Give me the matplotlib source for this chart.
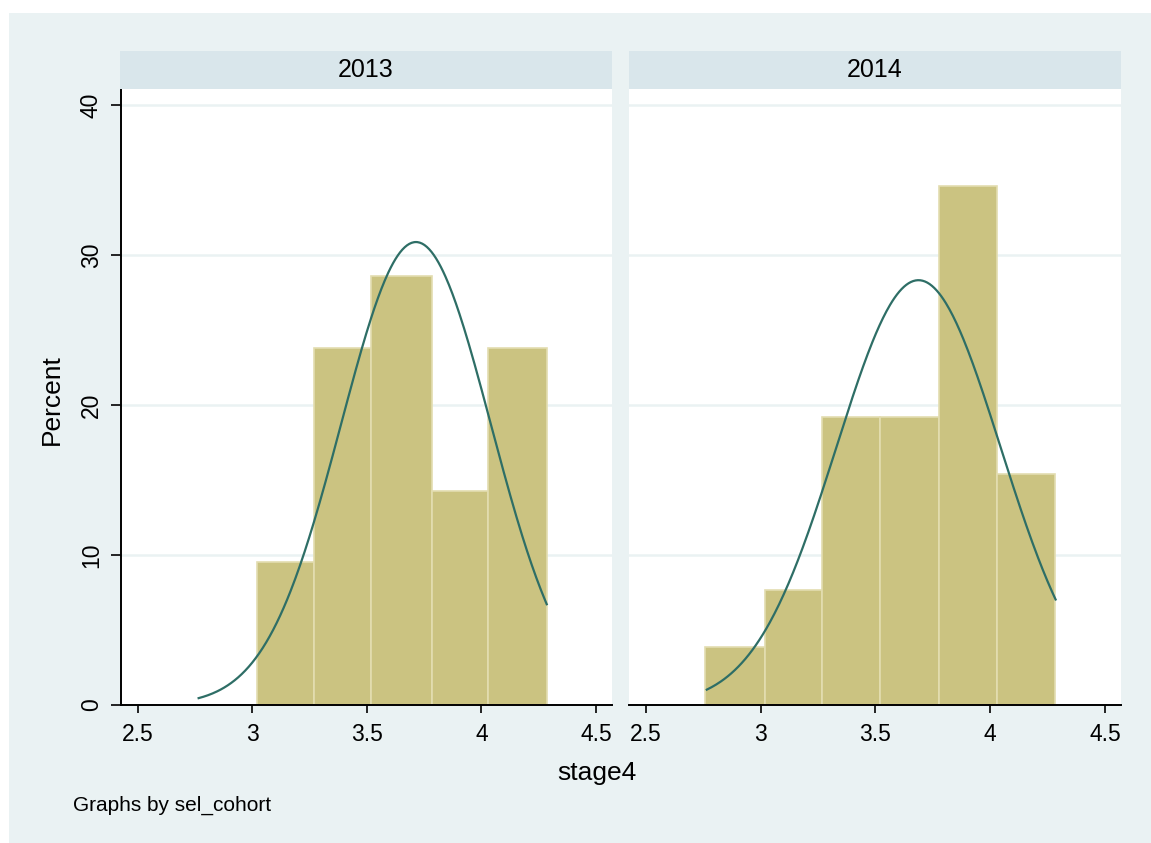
"""Stata-style histogram by cohort with normal density overlay, stage4."""

import matplotlib.pyplot as plt
import numpy as np
from matplotlib.patches import Rectangle

plt.rcParams["font.family"] = ["Liberation Sans", "DejaVu Sans"]

# --- data ---
COHORTS = ["2013", "2014"]
EDGES_2013 = [3.019, 3.270, 3.517, 3.783, 4.029, 4.284]
PCT_2013 = [9.52, 23.81, 28.57, 14.29, 23.81]
EDGES_2014 = [2.757, 3.017, 3.266, 3.519, 3.775, 4.031, 4.282]
PCT_2014 = [3.85, 7.69, 19.23, 19.23, 34.62, 15.38]
# fitted normal (mean, sd) per cohort, and the x range the curve covers
NORMAL_2013 = (3.714, 0.327)
NORMAL_2014 = (3.6875, 0.358)
CURVE_RANGE = (2.765, 4.285)

X_TICKS = [2.5, 3, 3.5, 4, 4.5]
X_TICKLABELS = ["2.5", "3", "3.5", "4", "4.5"]
Y_TICKS = [0, 10, 20, 30, 40]

BG = "#eaf2f3"
STRIP = "#d9e6eb"
BAR = "#cbc381"
BAR_EDGE = "#e3ddb0"
CURVE = "#2e6e66"

W, H = 1151, 843


def px_box(x0, y0, x1, y1):
    # pixel box (top-left origin) -> figure fraction [l, b, w, h]
    return [x0 / W, 1 - y1 / H, (x1 - x0) / W, (y1 - y0) / H]


def draw_panel(fig, box, strip_box, title, edges, pct, normal, show_y):
    ax = fig.add_axes(px_box(*box))
    ax.set_facecolor("white")
    edges = np.array(edges)
    widths = np.diff(edges)
    ax.bar(edges[:-1], pct, width=widths, align="edge", color=BAR,
           edgecolor=BAR_EDGE, linewidth=1.2, zorder=2)

    mu, sd = normal
    xs = np.linspace(CURVE_RANGE[0], CURVE_RANGE[1], 300)
    bw = widths.mean()
    ys = 100 * bw * np.exp(-0.5 * ((xs - mu) / sd) ** 2) / (sd * np.sqrt(2 * np.pi))
    ax.plot(xs, ys, color=CURVE, linewidth=1.6, zorder=3)

    ax.set_xlim(2.426, 4.570)
    ax.set_ylim(0, 41.07)
    ax.set_xticks(X_TICKS)
    ax.set_xticklabels(X_TICKLABELS)
    ax.set_yticks(Y_TICKS)
    ax.grid(True, axis="y", color=BG, linewidth=1.8, zorder=1)
    ax.set_axisbelow(True)

    for s in ["top", "right"]:
        ax.spines[s].set_visible(False)
    ax.spines["bottom"].set_linewidth(1.4)
    ax.tick_params(axis="x", length=6, width=1.2, pad=7, labelsize=16.5)
    if show_y:
        ax.spines["left"].set_linewidth(1.4)
        ax.tick_params(axis="y", length=7, width=1.2, pad=6, labelsize=16.5)
        for lab in ax.get_yticklabels():
            lab.set_rotation(90)
            lab.set_va("center")
    else:
        ax.spines["left"].set_visible(False)
        ax.tick_params(axis="y", left=False, labelleft=False)

    sax = fig.add_axes(px_box(*strip_box))
    sax.set_facecolor(STRIP)
    sax.set_xticks([])
    sax.set_yticks([])
    for s in sax.spines.values():
        s.set_visible(False)
    sax.text(0.5, 0.5, title, ha="center", va="center", fontsize=18,
             transform=sax.transAxes)
    return ax


def main():
    fig = plt.figure(figsize=(W / 100, H / 100), dpi=100)
    fig.patch.set_facecolor("white")
    fig.patches.append(Rectangle((9 / W, 0), 1 - 9 / W, 1 - 13 / H,
                                 transform=fig.transFigure, facecolor=BG,
                                 edgecolor="none", zorder=-10))

    draw_panel(fig, (121, 89, 612, 705), (120, 51, 612, 89), COHORTS[0],
               EDGES_2013, PCT_2013, NORMAL_2013, True)
    draw_panel(fig, (629, 89, 1121, 705), (629, 51, 1121, 89), COHORTS[1],
               EDGES_2014, PCT_2014, NORMAL_2014, False)

    fig.text(597 / W, 1 - 773 / H, "stage4", ha="center", va="center", fontsize=19)
    fig.text(52 / W, 1 - 400 / H, "Percent", ha="center", va="center",
             rotation=90, fontsize=19)
    fig.text(73 / W, 1 - 805 / H, "Graphs by sel_cohort", ha="left",
             va="center", fontsize=15)

    fig.savefig("out.png", dpi=100)
    plt.close(fig)


if __name__ == "__main__":
    main()
